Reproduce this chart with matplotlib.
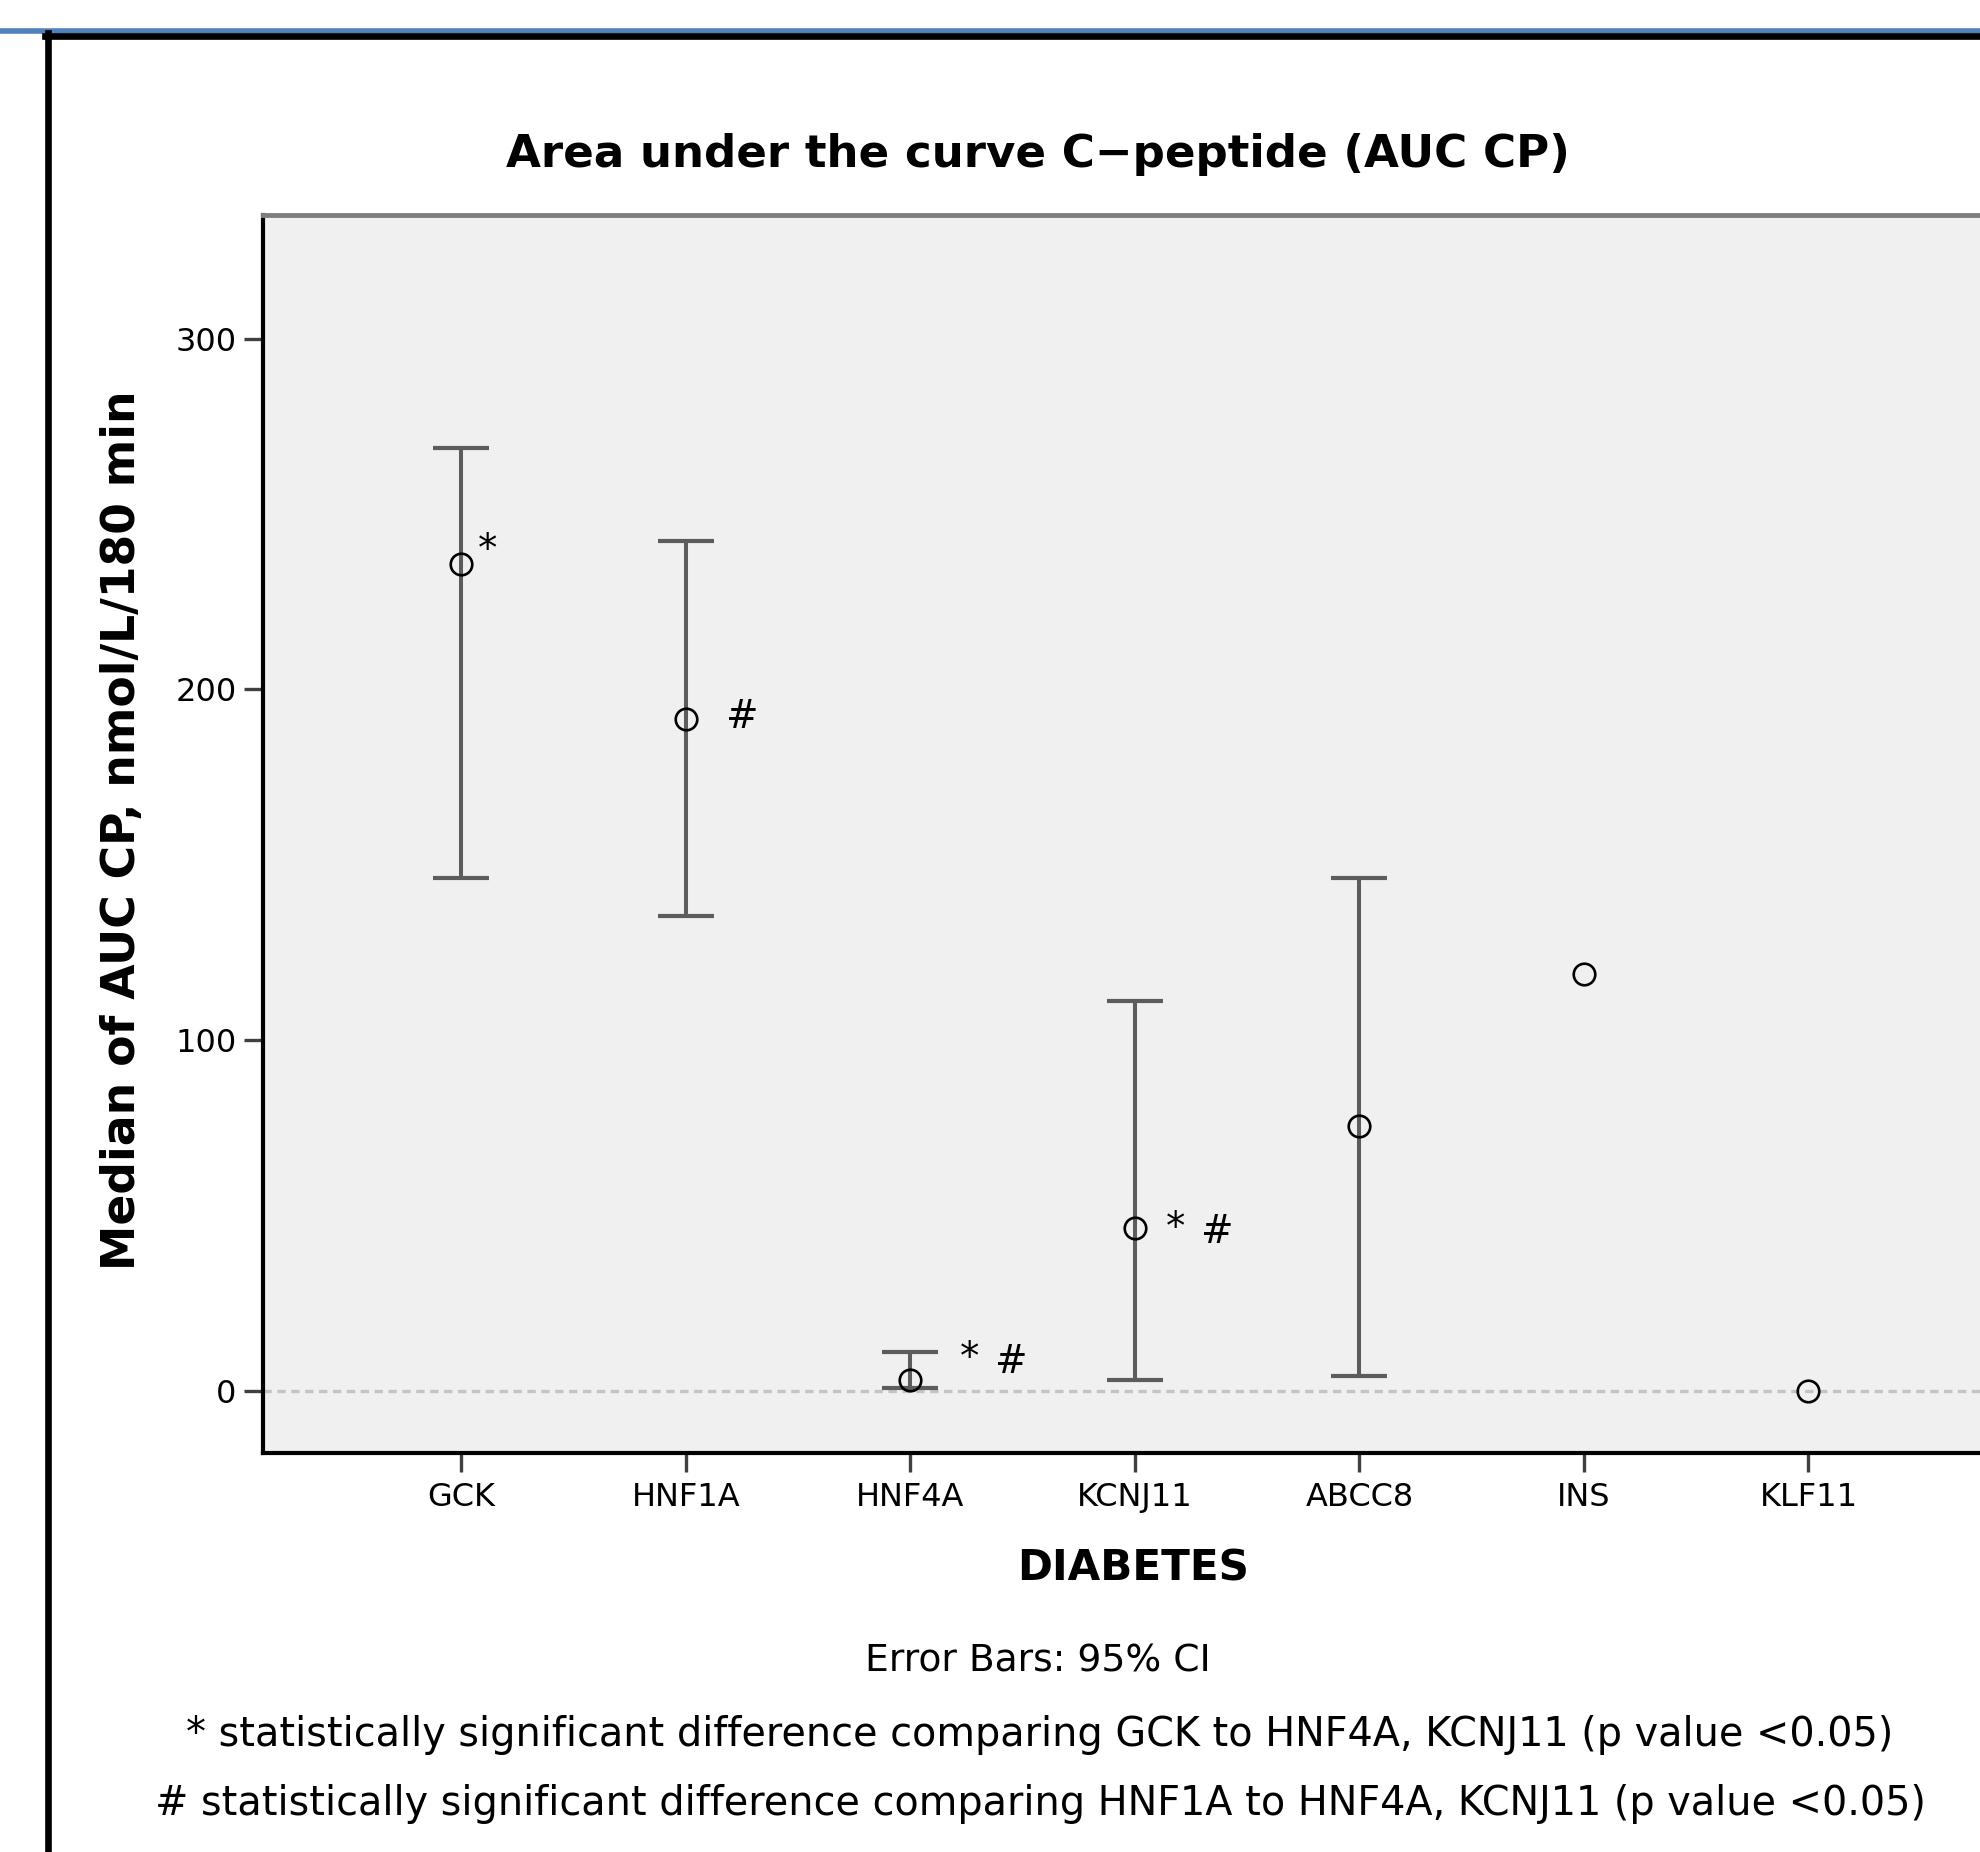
import matplotlib
matplotlib.use("Agg")
import matplotlib.pyplot as plt
from matplotlib.lines import Line2D
import numpy as np

# median AUC CP and 95% CI per gene
genes = ["GCK", "HNF1A", "HNF4A", "KCNJ11", "ABCC8", "INS", "KLF11"]
median_auc = [235.7, 191.6, 3.1, 46.5, 75.5, 118.9, 0.0]
ci_low = [146.2, 135.4, 0.9, 3.1, 4.4, np.nan, np.nan]
ci_high = [268.8, 242.3, 11.1, 111.2, 146.2, np.nan, np.nan]

# significance marks
star_genes = ["GCK", "HNF4A", "KCNJ11"]
hash_genes = ["HNF1A", "HNF4A", "KCNJ11"]

y_ticks = [0, 100, 200, 300]

title = "Area under the curve C\u2212peptide (AUC CP)"
y_label = "Median of AUC CP, nmol/L/180 min"
x_label = "DIABETES"
notes = [
    "Error Bars: 95% CI",
    "* statistically significant difference comparing GCK to HNF4A, KCNJ11 (p value <0.05)",
    "# statistically significant difference comparing HNF1A to HNF4A, KCNJ11 (p value <0.05)",
]

plt.rcParams["font.family"] = ["DejaVu Sans"]
plt.rcParams["lines.scale_dashes"] = False

fig = plt.figure(figsize=(19.81, 18.52), dpi=100)
ax = fig.add_axes([0.1328, 0.2154, 0.8802, 0.6685])
ax.set_facecolor("#f0f0f0")

x = np.arange(len(genes))
med = np.array(median_auc)
lo = np.array(ci_low)
hi = np.array(ci_high)

ax.axhline(0, color="#c4c4c4", lw=2.4, dashes=(6, 4), zorder=1)

ax.errorbar(x, med, yerr=[med - lo, hi - med], fmt="none", ecolor="#5c5c5c",
            elinewidth=2.9, capsize=20, capthick=3.0, zorder=2)
ax.plot(x, med, "o", ms=15.5, mfc="none", mec="black", mew=1.9, zorder=3)

# offsets of the marks in points, relative to the median point
star_off = {"GCK": (18.7, 2.2), "HNF4A": (42.5, 7.9), "KCNJ11": (29.5, -7.9)}
hash_off = {"HNF1A": (40.3, -6.5), "HNF4A": (72.7, 5.0), "KCNJ11": (59.0, -10.8)}
for g in star_genes:
    i = genes.index(g)
    ax.annotate("*", xy=(i, median_auc[i]), xytext=star_off[g],
                textcoords="offset points", ha="center", va="baseline",
                fontsize=28)
for g in hash_genes:
    i = genes.index(g)
    ax.annotate("#", xy=(i, median_auc[i]), xytext=hash_off[g],
                textcoords="offset points", ha="center", va="baseline",
                fontsize=28)

ax.set_xlim(-0.883, len(genes) - 1 + 0.883)
ax.set_ylim(-17.7, 335.2)
ax.set_xticks(x)
ax.set_xticklabels(genes)
ax.set_yticks(y_ticks)
ax.tick_params(axis="both", length=14, width=2.4, color="#404040",
               labelsize=23, pad=5)
ax.tick_params(axis="x", pad=7)

for side in ["left", "bottom"]:
    ax.spines[side].set_color("black")
    ax.spines[side].set_linewidth(3.0)
ax.spines["top"].set_color("#7f7f7f")
ax.spines["top"].set_linewidth(3.5)
ax.spines["right"].set_visible(False)

fig.text(0.524, 0.9168, title, ha="center", va="center", fontsize=32.5,
         fontweight="bold")
fig.text(0.062, 0.5518, y_label, ha="center", va="center", rotation=90,
         fontsize=32.9, fontweight="bold")
fig.text(0.572, 0.1533, x_label, ha="center", va="center", fontsize=30.3,
         fontweight="bold")
fig.text(0.524, 0.1031, notes[0], ha="center", va="center", fontsize=27.1)
fig.text(0.525, 0.0632, notes[1], ha="center", va="center", fontsize=28.6)
fig.text(0.525, 0.0259, notes[2], ha="center", va="center", fontsize=28.6)

# window frame around the chart
fig.add_artist(Line2D([0, 1], [0.98353, 0.98353], color="#4f81bd", lw=4.0))
fig.add_artist(Line2D([0.0227, 1], [0.98056, 0.98056], color="black", lw=4.8))
fig.add_artist(Line2D([0.02423, 0.02423], [0.0, 0.9822], color="black", lw=4.8))

fig.savefig("out.png", dpi=100)
